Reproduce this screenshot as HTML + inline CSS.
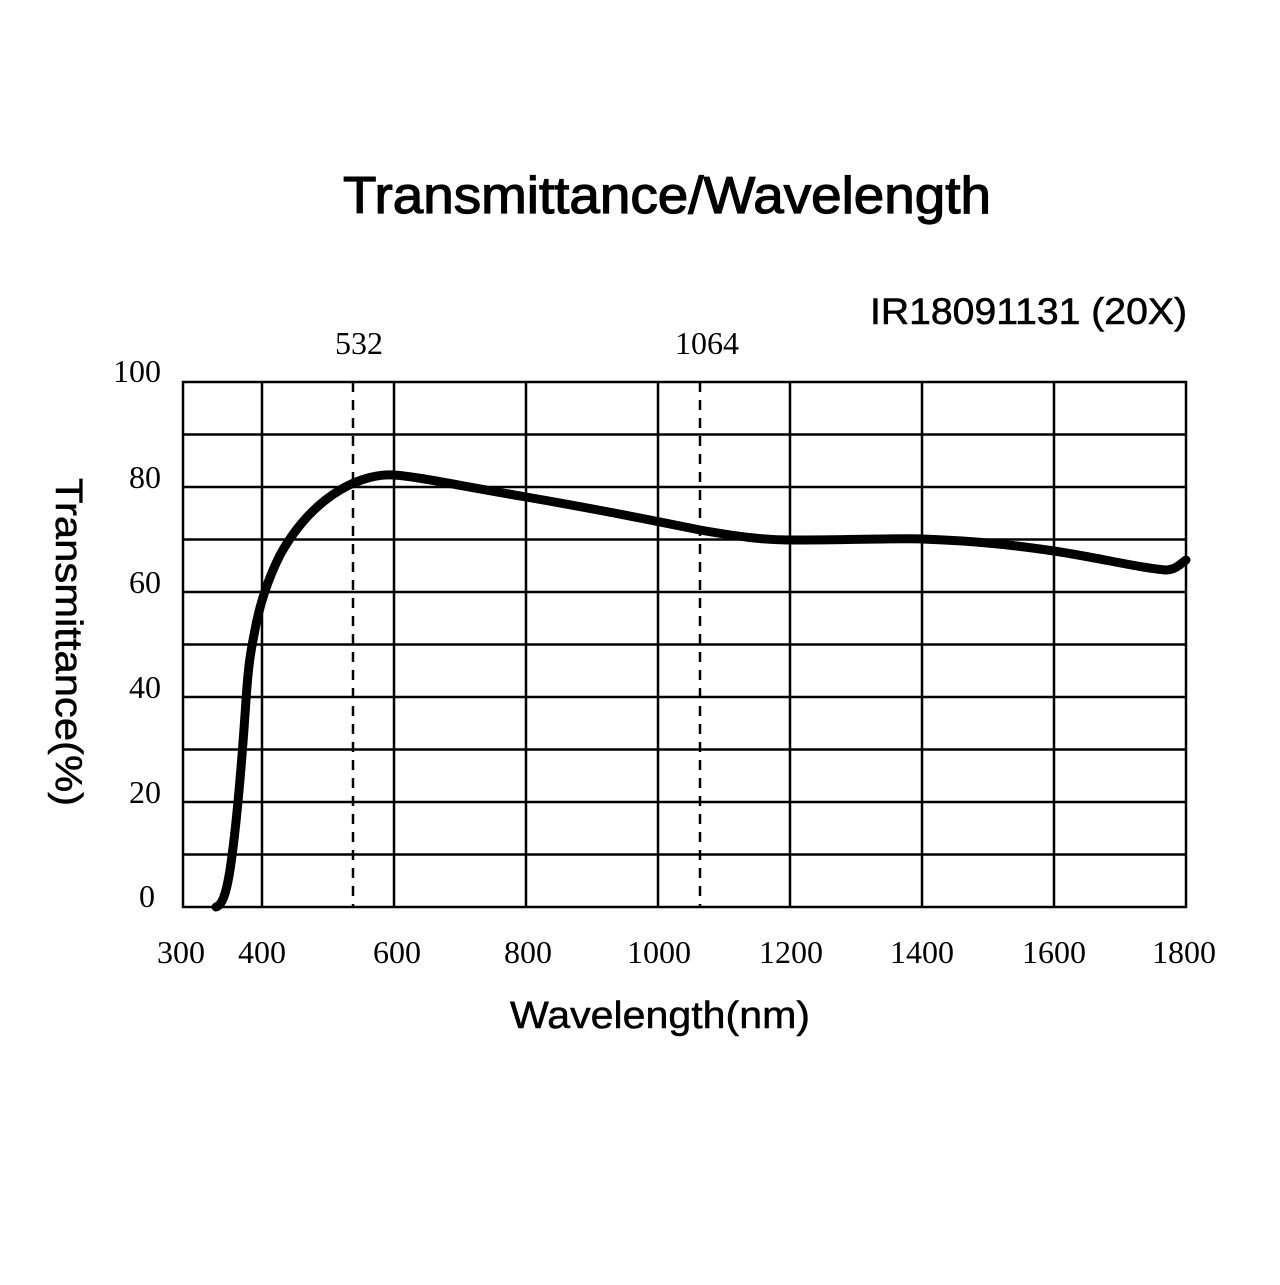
<!DOCTYPE html>
<html><head><meta charset="utf-8"><style>body{margin:0;background:#fff}</style></head><body>
<svg width="1280" height="1280" xmlns="http://www.w3.org/2000/svg">
<rect width="1280" height="1280" fill="#fff"/>
<text x="343" y="213" font-family="Liberation Sans, sans-serif" font-size="52" textLength="648" lengthAdjust="spacingAndGlyphs" fill="#000" stroke="#000" stroke-width="1.2">Transmittance/Wavelength</text>
<text x="870" y="324" font-family="Liberation Sans, sans-serif" font-size="37" textLength="317" lengthAdjust="spacingAndGlyphs" fill="#000" stroke="#000" stroke-width="0.6">IR18091131 (20X)</text>
<g stroke="#000" stroke-width="2.5" fill="none">
<rect x="183" y="382" width="1003" height="525"/>
<line x1="262" y1="382" x2="262" y2="907"/><line x1="394" y1="382" x2="394" y2="907"/>
<line x1="526" y1="382" x2="526" y2="907"/><line x1="658" y1="382" x2="658" y2="907"/>
<line x1="790" y1="382" x2="790" y2="907"/><line x1="922" y1="382" x2="922" y2="907"/>
<line x1="1054" y1="382" x2="1054" y2="907"/>
<line x1="183" y1="434.5" x2="1186" y2="434.5"/><line x1="183" y1="487" x2="1186" y2="487"/>
<line x1="183" y1="539.5" x2="1186" y2="539.5"/><line x1="183" y1="592" x2="1186" y2="592"/>
<line x1="183" y1="644.5" x2="1186" y2="644.5"/><line x1="183" y1="697" x2="1186" y2="697"/>
<line x1="183" y1="749.5" x2="1186" y2="749.5"/><line x1="183" y1="802" x2="1186" y2="802"/>
<line x1="183" y1="854.5" x2="1186" y2="854.5"/>
<line x1="353" y1="382" x2="353" y2="907" stroke-dasharray="10,8"/>
<line x1="700" y1="382" x2="700" y2="907" stroke-dasharray="10,8"/>
</g>
<g font-family="Liberation Serif, serif" font-size="32" fill="#000">
<text x="359" y="354" text-anchor="middle">532</text>
<text x="707" y="354" text-anchor="middle">1064</text>
<g text-anchor="end"><text x="161" y="382">100</text><text x="161" y="488">80</text><text x="161" y="593">60</text><text x="161" y="698">40</text><text x="161" y="803">20</text><text x="155" y="907">0</text></g>
<g text-anchor="middle"><text x="181" y="963">300</text><text x="262" y="963">400</text><text x="397" y="963">600</text><text x="528" y="963">800</text><text x="659" y="963">1000</text><text x="791" y="963">1200</text><text x="922" y="963">1400</text><text x="1054" y="963">1600</text><text x="1184" y="963">1800</text></g>
</g>
<text x="510" y="1028" font-family="Liberation Sans, sans-serif" font-size="38" textLength="300" lengthAdjust="spacingAndGlyphs" fill="#000" stroke="#000" stroke-width="0.5">Wavelength(nm)</text>
<text transform="translate(56,478) rotate(90)" font-family="Liberation Sans, sans-serif" font-size="38" textLength="328" lengthAdjust="spacingAndGlyphs" fill="#000" stroke="#000" stroke-width="0.5">Transmittance(%)</text>
<path d="M216,907 C222,905 226,895 230,870 C236,830 242,760 246,700 C248,670 250,655 254,635 C260,600 270,575 280,555 C295,528 315,505 340,490 C360,478 380,474 394,475 C420,477 450,484 526,497 C590,508 630,516 700,530 C740,537 765,540 790,540 C850,540 900,538 922,539 C980,541 1020,546 1054,551 C1100,558 1140,568 1165,570 C1176,570 1180,564 1186,560" stroke="#000" stroke-width="9" fill="none" stroke-linecap="round" stroke-linejoin="round"/>
</svg>
</body></html>
